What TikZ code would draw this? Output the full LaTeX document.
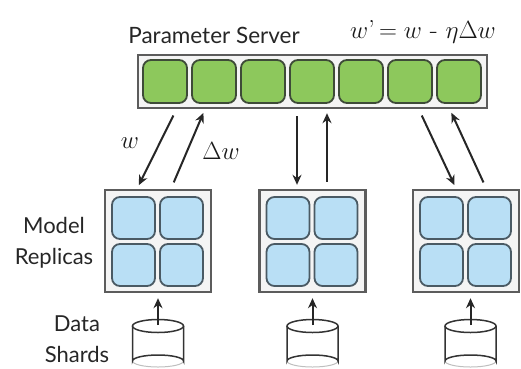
\documentclass[tikz,border=0pt]{standalone}
\usepackage{fontspec}
\setsansfont{Lato}
\usetikzlibrary{arrows.meta}
\definecolor{cellgreen}{HTML}{8DC85C}
\definecolor{greenedge}{HTML}{3E4B38}
\definecolor{cellblue}{HTML}{B9DFF5}
\definecolor{blueedge}{HTML}{4A5A64}
\definecolor{boxedge}{HTML}{5C5C5C}
\definecolor{boxfill}{HTML}{F4F4F4}
\tikzset{
  outerbox/.style={draw=boxedge, fill=boxfill, line width=2.4pt, inner sep=0pt},
  gcell/.style={draw=greenedge, fill=cellgreen, line width=1.8pt, rounded corners=8pt, minimum width=44pt, minimum height=43pt, inner sep=0pt},
  bcell/.style={draw=blueedge, fill=cellblue, line width=1.8pt, rounded corners=8pt, minimum width=43pt, minimum height=42pt, inner sep=0pt},
  arr/.style={draw=black!85, line width=2pt, -{Stealth[length=10pt,width=9pt]}, shorten <=7pt, shorten >=4pt},
  cyl/.style={draw=black!80, line width=1.5pt, fill=white},
  lbl/.style={font=\sffamily\fontsize{22}{31}\selectfont, text=black!85, align=center},
  mathlbl/.style={font=\fontsize{26}{30}\selectfont, text=black!90},
}
\begin{document}
\begin{tikzpicture}[x=1pt,y=-1pt]
\useasboundingbox (0,0) rectangle (521,368);
% Parameter server
\node[outerbox, minimum width=349pt, minimum height=53pt] (ps) at (312.5,81.5) {};
\foreach \i in {0,...,6} {
  \node[gcell] (g\i) at (165+49*\i,81.5) {};
}
\node[lbl, anchor=base, font=\sffamily\fontsize{22.5}{31}\selectfont] (pslabel) at (214,43) {Parameter Server};
\node[mathlbl, anchor=base] (eq) at (423,38) {$w$'\,$=w$ - $\eta\Delta w$};
% Replicas
\foreach \n/\cx in {r1/158, r2/312.5, r3/466} {
  \node[outerbox, minimum width=106pt, minimum height=102pt] (\n) at (\cx,241) {};
  \node[bcell] (\n a) at (\cx-24.5,218) {};
  \node[bcell] (\n b) at (\cx+23.5,218) {};
  \node[bcell] (\n c) at (\cx-24.5,265) {};
  \node[bcell] (\n d) at (\cx+23.5,265) {};
}
% Data shards (cylinders)
\foreach \n/\cx in {d1/158, d2/312.5, d3/470.5} {
  \fill[white] (\cx-25.5,326) -- (\cx-25.5,361) arc[start angle=180,end angle=360,x radius=25.5,y radius=6] -- (\cx+25.5,326) -- cycle;
  \draw[black!25, line width=1pt] (\cx-25.5,361) arc[start angle=180,end angle=0,x radius=25.5,y radius=6];
  \draw[cyl, fill=none] (\cx-25.5,326) -- (\cx-25.5,361) arc[start angle=180,end angle=360,x radius=25.5,y radius=6] -- (\cx+25.5,326);
  \draw[cyl] (\cx,326) ellipse[x radius=25.5, y radius=6.5];
  \coordinate (\n) at (\cx,325);
}
\draw[arr, shorten <=0pt, shorten >=5pt] (d1) -- (r1.south);
\draw[arr, shorten <=0pt, shorten >=5pt] (d2) -- (r2.south);
\draw[arr, shorten <=0pt, shorten >=5pt] (d3) -- ([xshift=4.5pt]r3.south);
% Server <-> replica arrows
\draw[arr] ([xshift=-136pt]ps.south) -- ([xshift=-21pt]r1.north);
\draw[arr] ([xshift=13pt]r1.north) -- ([xshift=-107.5pt]ps.south);
\draw[arr] ([xshift=-15.5pt]ps.south) -- ([xshift=-15.5pt]r2.north);
\draw[arr] ([xshift=14.5pt]r2.north) -- ([xshift=14.5pt]ps.south);
\draw[arr] ([xshift=106.3pt]ps.south) -- ([xshift=-9.8pt]r3.north);
\draw[arr] ([xshift=20.4pt]r3.north) -- ([xshift=137.3pt]ps.south);
% Labels
\node[mathlbl] (wl) at (130,143) {$w$};
\node[mathlbl] (dwl) at (221,151) {$\Delta w$};
\node[lbl] (mr) at (54,243) {Model\\Replicas};
\node[lbl] (ds) at (77,339) {Data\\Shards};
\end{tikzpicture}
\end{document}
